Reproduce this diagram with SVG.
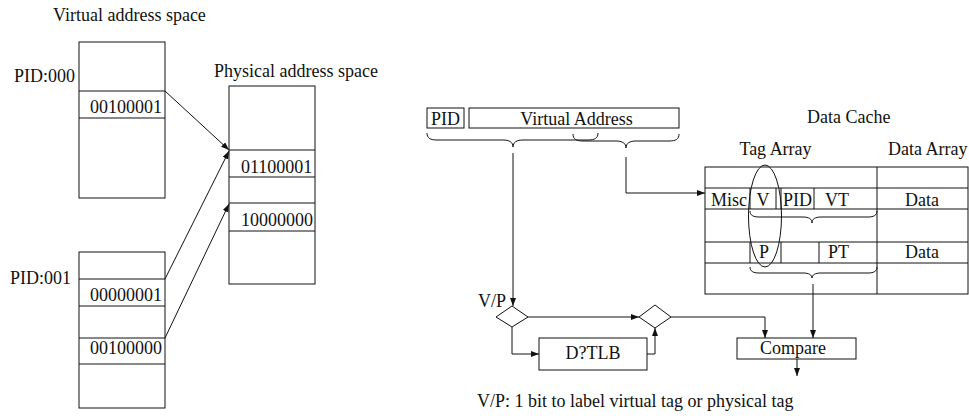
<svg xmlns="http://www.w3.org/2000/svg" width="969" height="420" viewBox="0 0 969 420">
<style>
text{font-family:"Liberation Serif","Times New Roman",serif;font-size:18px;fill:#111}
.b{fill:none;stroke:#111;stroke-width:1}
.w{fill:#fff;stroke:#111;stroke-width:1}
.c{fill:none;stroke:#111;stroke-width:1}
.m{text-anchor:middle}
</style>
<defs>
<marker id="ah" markerUnits="userSpaceOnUse" markerWidth="9" markerHeight="7" refX="8" refY="3" orient="auto">
<path d="M0,0 L8,3 L0,6 z" fill="#111"/>
</marker>
</defs>
<rect width="969" height="420" fill="#fff"/>

<text x="53" y="21">Virtual address space</text>
<text x="214" y="77">Physical address space</text>

<g id="vspace0">
<text x="14" y="82">PID:000</text>
<rect class="w" x="79" y="42" width="86" height="156"/>
<line class="b" x1="79" y1="91" x2="165" y2="91"/>
<line class="b" x1="79" y1="118" x2="165" y2="118"/>
<text x="90" y="113">00100001</text>
</g>

<g id="vspace1">
<text x="10" y="284">PID:001</text>
<rect class="w" x="79" y="252" width="86" height="156"/>
<line class="b" x1="79" y1="279" x2="165" y2="279"/>
<line class="b" x1="79" y1="306" x2="165" y2="306"/>
<line class="b" x1="79" y1="338" x2="165" y2="338"/>
<line class="b" x1="79" y1="364" x2="165" y2="364"/>
<text x="90" y="301">00000001</text>
<text x="90" y="354">00100000</text>
</g>

<g id="pspace">
<rect class="w" x="229" y="86" width="86" height="198"/>
<line class="b" x1="229" y1="150" x2="315" y2="150"/>
<line class="b" x1="229" y1="177" x2="315" y2="177"/>
<line class="b" x1="229" y1="203" x2="315" y2="203"/>
<line class="b" x1="229" y1="231" x2="315" y2="231"/>
<text x="241" y="173">01100001</text>
<text x="241" y="226">10000000</text>
</g>

<g id="addr">
<rect class="w" x="427" y="108" width="37" height="20"/>
<text class="m" x="445.5" y="125">PID</text>
<rect class="w" x="469" y="108" width="210" height="20"/>
<text class="m" x="576.5" y="125">Virtual Address</text>
</g>

<g id="cache">
<text x="807" y="123">Data Cache</text>
<text class="m" x="775.5" y="155">Tag Array</text>
<text x="888" y="155">Data Array</text>
<rect class="w" x="705" y="167" width="263" height="127"/>
<line class="b" x1="877" y1="167" x2="877" y2="294"/>
<line class="b" x1="705" y1="188" x2="968" y2="188"/>
<line class="b" x1="705" y1="209" x2="968" y2="209"/>
<line class="b" x1="705" y1="242" x2="968" y2="242"/>
<line class="b" x1="705" y1="263" x2="968" y2="263"/>
<line class="b" x1="750" y1="188" x2="750" y2="209"/>
<line class="b" x1="776" y1="188" x2="776" y2="209"/>
<line class="b" x1="781" y1="188" x2="781" y2="209"/>
<line class="b" x1="814" y1="188" x2="814" y2="209"/>
<line class="b" x1="750" y1="242" x2="750" y2="263"/>
<line class="b" x1="781" y1="242" x2="781" y2="263"/>
<line class="b" x1="819" y1="242" x2="819" y2="263"/>
<text x="711" y="206">Misc</text>
<text class="m" x="763" y="206">V</text>
<text class="m" x="797.5" y="206">PID</text>
<text x="825" y="206">VT</text>
<text class="m" x="922" y="206">Data</text>
<text class="m" x="764" y="258">P</text>
<text x="828" y="258">PT</text>
<text class="m" x="922" y="258">Data</text>
<ellipse class="b" cx="765" cy="216" rx="16.5" ry="51"/>
</g>

<g id="braces">
<path class="c" d="M427,133 C427,138 430,140 437,140 L503,140 C509,140 513,142 513,147 C513,142 517,140 523,140 L588,140 C595,140 598,138 598,133"/>
<path class="c" d="M573,134 C573,139 576,141 583,141 L616,141 C622,141 626,143 626,148 C626,143 630,141 636,141 L669,141 C676,141 679,139 679,134"/>
<path class="c" d="M750,211 C750,215 753,217 759,217 L803,217 C809,217 812,219 812,223 C812,219 815,217 821,217 L868,217 C874,217 877,215 877,211"/>
<path class="c" d="M750,267 C750,271 753,273 759,273 L803,273 C809,273 812,275 812,278 C812,275 815,273 821,273 L868,273 C874,273 877,271 877,267"/>
</g>

<g id="vp1">
<text x="478" y="307">V/P</text>
<path class="w" d="M512,306 L528,317 L512,327 L496,317 z"/>
</g>
<g id="vp2">
<path class="w" d="M655,305 L671,317 L655,328 L639,317 z"/>
</g>
<g id="tlb">
<rect class="w" x="539" y="338" width="108" height="32"/>
<text class="m" x="593" y="359">D?TLB</text>
</g>
<g id="compare">
<rect class="w" x="737" y="338" width="119" height="21"/>
<text class="m" x="793" y="354">Compare</text>
</g>

<g id="connectors">
<line class="c" x1="165" y1="91" x2="229" y2="150" marker-end="url(#ah)"/>
<line class="c" x1="165" y1="279" x2="229" y2="151" marker-end="url(#ah)"/>
<line class="c" x1="165" y1="338" x2="229" y2="204" marker-end="url(#ah)"/>
<polyline class="c" points="513,153 513,306" marker-end="url(#ah)"/>
<polyline class="c" points="626,157 626,193 705,193" marker-end="url(#ah)"/>
<polyline class="c" points="528,317 639,317" marker-end="url(#ah)"/>
<polyline class="c" points="512,327 512,354 539,354" marker-end="url(#ah)"/>
<polyline class="c" points="647,354 655,354 655,328" marker-end="url(#ah)"/>
<polyline class="c" points="671,317 765,317 765,338" marker-end="url(#ah)"/>
<polyline class="c" points="813,284 813,338" marker-end="url(#ah)"/>
<polyline class="c" points="797,359 797,376" marker-end="url(#ah)"/>
</g>

<text x="477" y="407">V/P: 1 bit to label virtual tag or physical tag</text>
</svg>
